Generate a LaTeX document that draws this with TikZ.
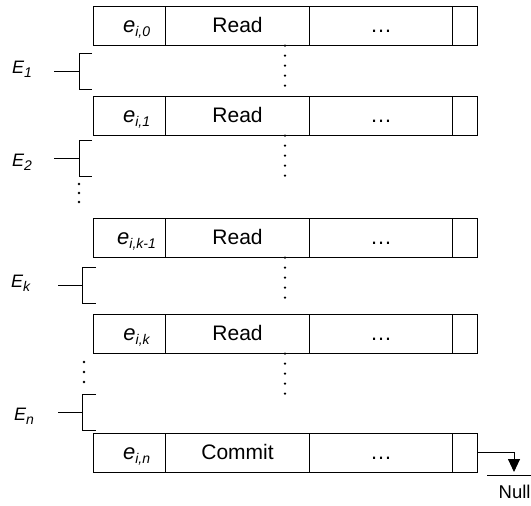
\documentclass[tikz,border=0pt]{standalone}
\usepackage{fontspec}
\setmainfont{Liberation Sans}
\usetikzlibrary{arrows.meta}

% italic "e" with a lowered subscript
\newcommand{\evt}[1]{\textit{e\raisebox{-4pt}{\fontsize{14}{14}\selectfont #1}}}
% italic "E" with a lowered subscript
\newcommand{\epoch}[1]{\textit{E\raisebox{-4.5pt}{\fontsize{14}{14}\selectfont #1}}}

\tikzset{
  cell/.style={draw, line width=1.1pt, rectangle, inner sep=0pt, anchor=north west,
               minimum height=38.5pt, text height=13pt, text depth=0pt,
               font=\fontsize{21}{21}\selectfont},
  idcell/.style={cell, minimum width=72pt, text width=72pt, align=center,
                 font=\fontsize{22}{22}\selectfont},
  opcell/.style={cell, minimum width=144pt},
  datcell/.style={cell, minimum width=143pt, font=\fontsize{22}{22}\selectfont},
  ptrcell/.style={cell, minimum width=25pt},
  brk/.style={line width=0.9pt},
  vdot/.style={circle, fill, inner sep=0pt, minimum size=2.6pt},
  elabel/.style={anchor=base west, inner sep=0pt, font=\fontsize{18}{18}\selectfont},
}

\begin{document}
\begin{tikzpicture}[x=1pt, y=-1pt]
\useasboundingbox (0,0) rectangle (531,506);

% log records: one row per event
\foreach \r/\top/\ev/\op in {r0/6/{i,0}/Read, r1/96/{i,1}/Read, rk1/218/{i,k-1}/Read,
                              rk/314/{i,k}/Read, rn/433/{i,n}/Commit}{
  \node[idcell] (\r-id) at (93,\top) {\hspace*{14pt}\evt{\ev}};
  \node[opcell] (\r-op) at (165,\top) {\op};
  \node[datcell] (\r-dat) at (309,\top) {…};
  \node[ptrcell] (\r-ptr) at (452,\top) {};
}

% gaps between consecutive records
\foreach \r in {r0, r1, rk1, rk}{
  \foreach \d in {0,10,20,30,40}{
    \node[vdot] at ([yshift=-\d pt]\r-op.south west -| 285,0) {};
  }
}

% epoch brackets
\foreach \name/\x/\ya/\yb/\tick/\stub in {b1/79/53/89/92/54, b2/79/140/176/92/54,
                                           bk/82/267/303/96/58, bn/82/394/430/96/58}{
  \coordinate (\name-t) at (\tick,\ya);
  \coordinate (\name-b) at (\tick,\yb);
  \coordinate (\name-m) at (\x,{(\ya+\yb)/2});
  \coordinate (\name-s) at (\stub,{(\ya+\yb)/2});
  \draw[brk] (\name-t) -- (\x,\ya) -- (\x,\yb) -- (\name-b);
  \draw[brk] (\name-s) -- (\name-m);
}

\node[elabel] (L1) at (12,73)  {\epoch{1}};
\node[elabel] (L2) at (12,166) {\epoch{2}};
\node[elabel] (Lk) at (11,287) {\epoch{k}};
\node[elabel] (Ln) at (14,420) {\epoch{n}};

% omitted epochs
\foreach \y in {184,193,202}{ \node[vdot] at (79,\y) {}; }
\foreach \y in {362,372,382}{ \node[vdot] at (84,\y) {}; }

% last record points to null
\coordinate (gnd) at (514,472);
\draw[line width=0.9pt, -{Triangle[width=12pt,length=13pt]}]
  (rn-ptr.east) -- (gnd |- rn-ptr.east) -- (gnd);
\draw[line width=0.9pt] (487,475.5) -- (545,475.5);
\node[anchor=base west, inner sep=0pt, font=\fontsize{18.5}{18.5}\selectfont] (null) at (498.5,498) {Null};
\end{tikzpicture}
\end{document}
